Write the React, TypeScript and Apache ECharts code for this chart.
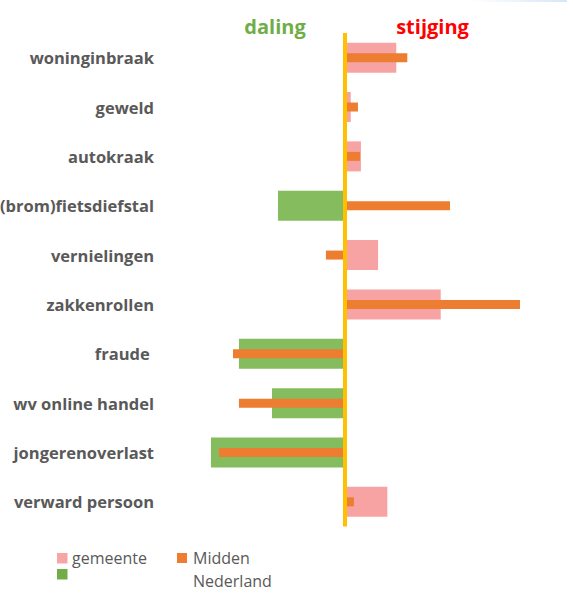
import React, { useEffect, useRef } from "react";
import * as echarts from "echarts";

const categories = [
  "woninginbraak",
  "geweld",
  "autokraak",
  "(brom)fietsdiefstal",
  "vernielingen",
  "zakkenrollen",
  "fraude ",
  "wv online handel",
  "jongerenoverlast",
  "verward persoon",
];
const gemeente = [29.3, 3.3, 9.1, -38.3, 18.9, 54.7, -60.6, -41.7, -76.6, 24.2];
const middenNederland = [35.6, 7.4, 8.6, 60, -10.9, 100, -64, -60.6, -72, 5.1];
const seriesNames = ["gemeente", "Midden Nederland"];
const headerLabels = ["daling", "stijging"];

const PINK = "#F8A3A3";
const GREEN = "#84BC5E";
const LEGEND_GREEN = "#70AD47";
const ORANGE = "#ED7D31";
const YELLOW = "#FFC000";
const GRAY = "#595959";
const FONT = "'Open Sans', sans-serif";

export default function App() {
  const ref = useRef<HTMLDivElement>(null);
  useEffect(() => {
    if (!ref.current) return;
    const chart = echarts.init(ref.current, undefined, { renderer: "svg" });
    const [midLine1, midLine2] = seriesNames[1].split(" ");
    chart.setOption({
      animation: false,
      backgroundColor: "#ffffff",
      grid: {
        left: 205,
        width: 350,
        top: 33,
        height: 493.5,
        containLabel: false,
        outerBoundsMode: "none",
      },
      xAxis: {
        type: "value",
        min: -80,
        max: 120,
        show: false,
      },
      yAxis: [
        {
          type: "category",
          data: categories,
          inverse: true,
          axisLine: { show: false, onZero: false },
          axisTick: { show: false },
          splitLine: { show: false },
          axisLabel: {
            margin: 51,
            fontSize: 16.5,
            fontWeight: "bold",
            color: GRAY,
            fontFamily: FONT,
          },
        },
        {
          type: "category",
          data: categories,
          inverse: true,
          show: false,
          axisLine: { onZero: false },
        },
      ],
      series: [
        {
          name: seriesNames[0],
          type: "bar",
          yAxisIndex: 0,
          barWidth: 30,
          data: gemeente.map((v) => ({
            value: v,
            itemStyle: { color: v >= 0 ? PINK : GREEN },
          })),
          emphasis: { disabled: true },
        },
        {
          name: seriesNames[1],
          type: "bar",
          yAxisIndex: 1,
          barWidth: 9,
          itemStyle: { color: ORANGE },
          data: middenNederland,
          emphasis: { disabled: true },
          markLine: {
            silent: true,
            symbol: ["none", "none"],
            label: { show: false },
            lineStyle: { color: YELLOW, width: 4, type: "solid" },
            emphasis: { disabled: true },
            data: [{ xAxis: 0 }],
          },
        },
      ],
      graphic: [
        {
          type: "rect",
          shape: { x: 470, y: 0, width: 97, height: 2 },
          style: {
            fill: new echarts.graphic.LinearGradient(0, 0, 1, 0, [
              { offset: 0, color: "#ffffff" },
              { offset: 1, color: "#D6E6F6" },
            ]),
          },
          silent: true,
        },
        {
          type: "text",
          x: 275,
          y: 26,
          style: {
            text: headerLabels[0],
            fill: LEGEND_GREEN,
            font: `bold 20px ${FONT}`,
            textAlign: "center",
            textVerticalAlign: "middle",
          },
        },
        {
          type: "text",
          x: 432.5,
          y: 26,
          style: {
            text: headerLabels[1],
            fill: "#FF0000",
            font: `bold 20px ${FONT}`,
            textAlign: "center",
            textVerticalAlign: "middle",
          },
        },
        {
          type: "rect",
          shape: { x: 57, y: 553, width: 10.5, height: 10.5 },
          style: { fill: "#F8A5A5" },
        },
        {
          type: "rect",
          shape: { x: 57, y: 569, width: 10.5, height: 10.5 },
          style: { fill: LEGEND_GREEN },
        },
        {
          type: "text",
          x: 72,
          y: 558,
          style: {
            text: seriesNames[0],
            fill: GRAY,
            font: `16px ${FONT}`,
            textAlign: "left",
            textVerticalAlign: "middle",
          },
        },
        {
          type: "rect",
          shape: { x: 177, y: 553, width: 10, height: 10 },
          style: { fill: ORANGE },
        },
        {
          type: "text",
          x: 193,
          y: 558,
          style: {
            text: midLine1,
            fill: GRAY,
            font: `16px ${FONT}`,
            textAlign: "left",
            textVerticalAlign: "middle",
          },
        },
        {
          type: "text",
          x: 193,
          y: 581,
          style: {
            text: midLine2,
            fill: GRAY,
            font: `16px ${FONT}`,
            textAlign: "left",
            textVerticalAlign: "middle",
          },
        },
      ],
    });
    return () => chart.dispose();
  }, []);
  return (
    <div
      ref={ref}
      style={{ position: "fixed", left: 0, top: 0, width: 573, height: 596, background: "#fff" }}
    />
  );
}
